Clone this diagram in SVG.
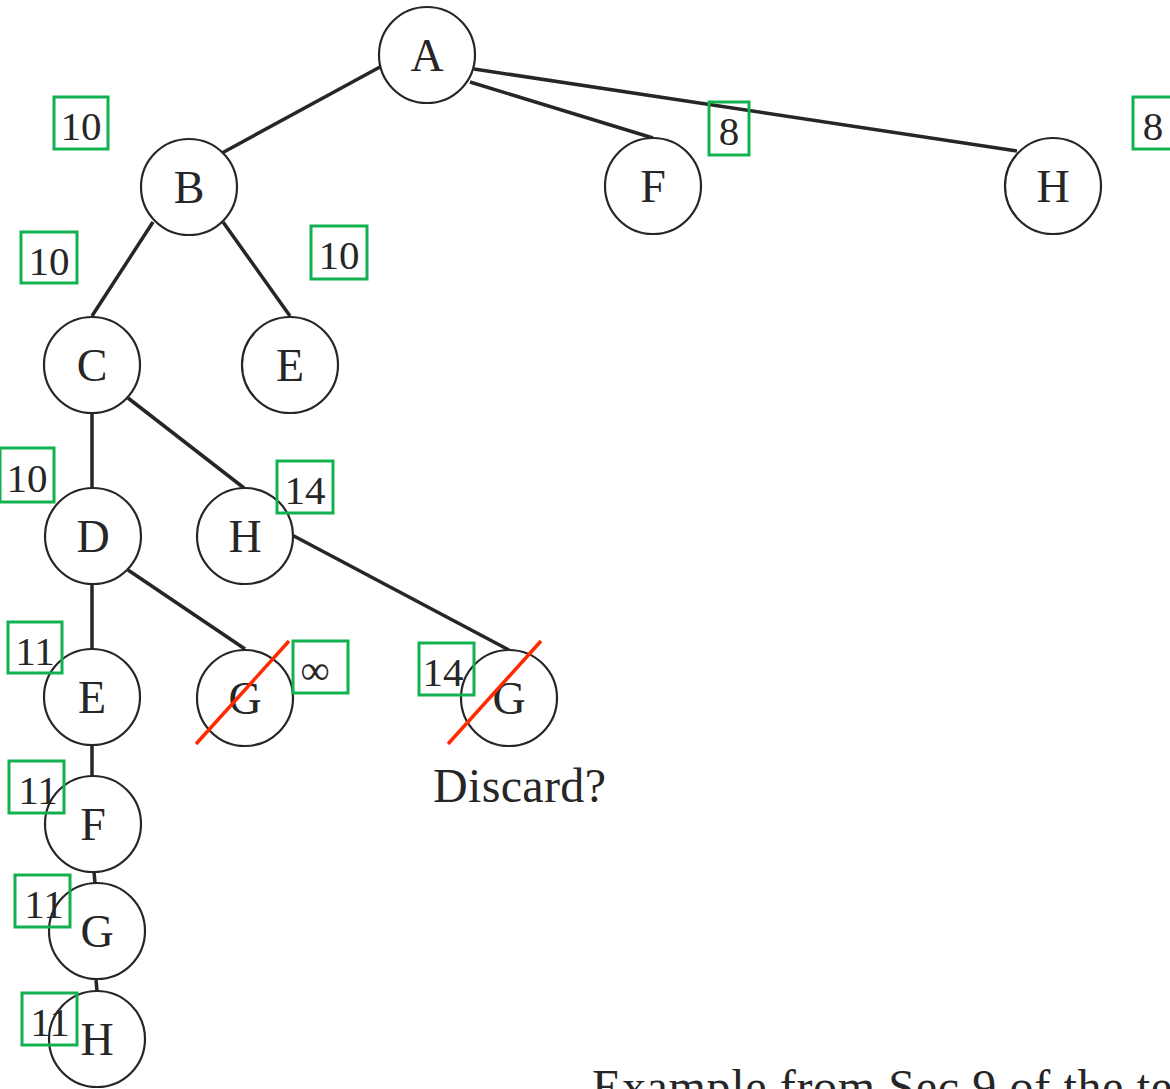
<svg xmlns="http://www.w3.org/2000/svg" width="1170" height="1089" viewBox="0 0 1170 1089">
  <style>
    .node circle { fill: #ffffff; stroke: #262626; stroke-width: 2.2; }
    .node text { font-family: "Liberation Serif", "DejaVu Serif", serif; font-size: 46px; fill: #262626; text-anchor: middle; }
    #edges line { stroke: #262626; stroke-width: 3.5; stroke-linecap: butt; }
    .cost rect { fill: none; stroke: #12b150; stroke-width: 3; }
    .cost text { font-family: "Liberation Serif", "DejaVu Serif", serif; font-size: 41px; fill: #262626; text-anchor: middle; }
    .cross { stroke: #ff2a00; stroke-width: 3.5; }
    .note { font-family: "Liberation Serif", "DejaVu Serif", serif; font-size: 48px; fill: #262626; }
  </style>
  <rect width="1170" height="1089" fill="#ffffff"/>

  <!-- connectors -->
  <g id="edges">
    <line x1="380" y1="67" x2="222" y2="153"/>
    <line x1="470" y1="82" x2="653" y2="138"/>
    <line x1="474" y1="69" x2="1017" y2="151"/>
    <line x1="153" y1="222" x2="92" y2="316"/>
    <line x1="223" y1="222" x2="290" y2="316"/>
    <line x1="92" y1="413" x2="92" y2="488"/>
    <line x1="128" y1="398" x2="244" y2="488"/>
    <line x1="92" y1="585" x2="92" y2="650"/>
    <line x1="128" y1="570" x2="245" y2="649"/>
    <line x1="292" y1="535" x2="509" y2="650"/>
    <line x1="92" y1="745" x2="92" y2="776"/>
    <line x1="94" y1="872" x2="95" y2="883"/>
    <line x1="96" y1="980" x2="97" y2="991"/>
  </g>

  <!-- search tree nodes -->
  <g id="node-A" class="node"><circle cx="427" cy="55" r="48"/><text x="427" y="71">A</text></g>
  <g id="node-B" class="node"><circle cx="189" cy="187" r="48"/><text x="189" y="203">B</text></g>
  <g id="node-F1" class="node"><circle cx="653" cy="186" r="48"/><text x="653" y="202">F</text></g>
  <g id="node-H1" class="node"><circle cx="1053" cy="186" r="48"/><text x="1053" y="202">H</text></g>
  <g id="node-C" class="node"><circle cx="92" cy="365" r="48"/><text x="92" y="381">C</text></g>
  <g id="node-E1" class="node"><circle cx="290" cy="365" r="48"/><text x="290" y="381">E</text></g>
  <g id="node-D" class="node"><circle cx="93" cy="536" r="48"/><text x="93" y="552">D</text></g>
  <g id="node-H2" class="node"><circle cx="245" cy="536" r="48"/><text x="245" y="552">H</text></g>
  <g id="node-E2" class="node"><circle cx="92" cy="697" r="48"/><text x="92" y="713">E</text></g>
  <g id="node-G1" class="node"><circle cx="245" cy="698" r="48"/><text x="245" y="714">G</text></g>
  <g id="node-G2" class="node"><circle cx="509" cy="698" r="48"/><text x="509" y="714">G</text></g>
  <g id="node-F2" class="node"><circle cx="93" cy="824" r="48"/><text x="93" y="840">F</text></g>
  <g id="node-G3" class="node"><circle cx="97" cy="931" r="48"/><text x="97" y="947">G</text></g>
  <g id="node-H3" class="node"><circle cx="97" cy="1039" r="48"/><text x="97" y="1055">H</text></g>

  <!-- pruned nodes -->
  <g id="strike">
    <line class="cross" x1="196" y1="744" x2="289" y2="641"/>
    <line class="cross" x1="448" y1="744" x2="541" y2="641"/>
  </g>

  <!-- cost bounds -->
  <g class="cost">
    <g id="cost-1"><rect x="54" y="97" width="54" height="52"/><text x="81" y="140">10</text></g>
    <g id="cost-2"><rect x="21" y="232" width="56" height="51"/><text x="49" y="275">10</text></g>
    <g id="cost-3"><rect x="311" y="226" width="56" height="53"/><text x="339" y="269">10</text></g>
    <g id="cost-4"><rect x="709" y="102" width="40" height="53"/><text x="729" y="145">8</text></g>
    <g id="cost-5"><rect x="1133" y="97" width="40" height="52"/><text x="1153" y="140">8</text></g>
    <g id="cost-6"><rect x="0" y="448" width="54" height="54"/><text x="27" y="492">10</text></g>
    <g id="cost-7"><rect x="277" y="461" width="56" height="52"/><text x="305" y="504">14</text></g>
    <g id="cost-8"><rect x="8" y="622" width="54" height="51"/><text x="35" y="665">11</text></g>
    <g id="cost-9"><rect x="293" y="641" width="55" height="52"/><text x="315" y="684">∞</text></g>
    <g id="cost-10"><rect x="419" y="643" width="55" height="52"/><text x="443" y="686">14</text></g>
    <g id="cost-11"><rect x="9" y="761" width="55" height="52"/><text x="38" y="804">11</text></g>
    <g id="cost-12"><rect x="15" y="875" width="55" height="52"/><text x="44" y="918">11</text></g>
    <g id="cost-13"><rect x="22" y="993" width="55" height="52"/><text x="50" y="1036">11</text></g>
  </g>

  <text class="note" x="433" y="802" textLength="173">Discard?</text>
  <text class="note" x="592" y="1103" textLength="580">Example from Sec 9 of the te</text>
</svg>
